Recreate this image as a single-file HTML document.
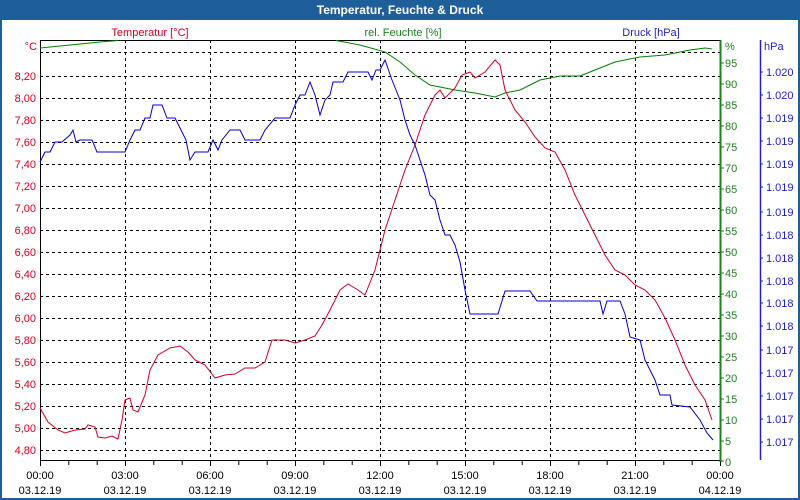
<!DOCTYPE html>
<html><head><meta charset="utf-8"><style>
html,body{margin:0;padding:0;background:#fff}
svg{display:block}
text{font-family:"Liberation Sans","DejaVu Sans",sans-serif;font-size:11px}
</style></head><body>
<svg width="800" height="500" viewBox="0 0 800 500" xmlns="http://www.w3.org/2000/svg">
<rect x="0" y="0" width="800" height="500" fill="#fff"/>
<rect x="0" y="0" width="800" height="20" fill="#1e5f99"/>
<rect x="1" y="1" width="798" height="498" fill="none" stroke="#1e5f99" stroke-width="2"/>
<text x="400" y="14" fill="#fff" text-anchor="middle" font-weight="bold" style="font-size:12px">Temperatur, Feuchte &amp; Druck</text>

<text x="150" y="36" fill="#d00020" text-anchor="middle">Temperatur [°C]</text>
<text x="403" y="36" fill="#208020" text-anchor="middle">rel. Feuchte [%]</text>
<text x="651" y="36" fill="#2020c0" text-anchor="middle">Druck [hPa]</text>
<text x="37" y="50" fill="#d00020" text-anchor="end">°C</text>
<text x="725" y="50" fill="#208020">%</text>
<text x="764" y="50" fill="#2020c0">hPa</text>

<g stroke="#000" stroke-dasharray="3,3" stroke-width="1">
<line x1="40" y1="52.5" x2="720" y2="52.5"/>
<line x1="40" y1="76.5" x2="720" y2="76.5"/><line x1="40" y1="98.5" x2="720" y2="98.5"/>
<line x1="40" y1="120.5" x2="720" y2="120.5"/><line x1="40" y1="142.5" x2="720" y2="142.5"/>
<line x1="40" y1="164.5" x2="720" y2="164.5"/><line x1="40" y1="186.5" x2="720" y2="186.5"/>
<line x1="40" y1="208.5" x2="720" y2="208.5"/><line x1="40" y1="230.5" x2="720" y2="230.5"/>
<line x1="40" y1="252.5" x2="720" y2="252.5"/><line x1="40" y1="274.5" x2="720" y2="274.5"/>
<line x1="40" y1="296.5" x2="720" y2="296.5"/><line x1="40" y1="318.5" x2="720" y2="318.5"/>
<line x1="40" y1="340.5" x2="720" y2="340.5"/><line x1="40" y1="362.5" x2="720" y2="362.5"/>
<line x1="40" y1="384.5" x2="720" y2="384.5"/><line x1="40" y1="406.5" x2="720" y2="406.5"/>
<line x1="40" y1="428.5" x2="720" y2="428.5"/><line x1="40" y1="450.5" x2="720" y2="450.5"/>
<line x1="125.5" y1="40" x2="125.5" y2="460"/><line x1="210.5" y1="40" x2="210.5" y2="460"/>
<line x1="295.5" y1="40" x2="295.5" y2="460"/><line x1="380.5" y1="40" x2="380.5" y2="460"/>
<line x1="465.5" y1="40" x2="465.5" y2="460"/><line x1="550.5" y1="40" x2="550.5" y2="460"/>
<line x1="635.5" y1="40" x2="635.5" y2="460"/>
</g>
<line x1="40.5" y1="40" x2="40.5" y2="461" stroke="#000"/>
<line x1="40" y1="40.5" x2="720" y2="40.5" stroke="#000"/>
<line x1="40" y1="460.5" x2="720" y2="460.5" stroke="#000"/>
<line x1="720.5" y1="40" x2="720.5" y2="462" stroke="#208020" stroke-width="2"/>
<line x1="760.5" y1="40" x2="760.5" y2="460" stroke="#2020c0" stroke-width="1.5"/>

<g stroke="#000">
<path d="M40.5 461v5M68.8 461v4M97.2 461v4M125.5 461v5M153.8 461v4M182.2 461v4M210.5 461v5M238.8 461v4M267.2 461v4M295.5 461v5M323.8 461v4M352.2 461v4M380.5 461v5M408.8 461v4M437.2 461v4M465.5 461v5M493.8 461v4M522.2 461v4M550.5 461v5M578.8 461v4M607.2 461v4M635.5 461v5M663.8 461v4M692.2 461v4M720.5 461v5"/>
</g>

<g fill="#d00020" text-anchor="end">
<text x="36" y="80">8,20</text><text x="36" y="102">8,00</text><text x="36" y="124">7,80</text>
<text x="36" y="146">7,60</text><text x="36" y="168">7,40</text><text x="36" y="190">7,20</text>
<text x="36" y="212">7,00</text><text x="36" y="234">6,80</text><text x="36" y="256">6,60</text>
<text x="36" y="278">6,40</text><text x="36" y="300">6,20</text><text x="36" y="322">6,00</text>
<text x="36" y="344">5,80</text><text x="36" y="366">5,60</text><text x="36" y="388">5,40</text>
<text x="36" y="410">5,20</text><text x="36" y="432">5,00</text><text x="36" y="454">4,80</text>
</g>

<g fill="#208020" stroke="none">
<text x="725" y="67">95</text><text x="725" y="88">90</text><text x="725" y="109">85</text>
<text x="725" y="130">80</text><text x="725" y="151">75</text><text x="725" y="172">70</text>
<text x="725" y="193">65</text><text x="725" y="214">60</text><text x="725" y="235">55</text>
<text x="725" y="256">50</text><text x="725" y="277">45</text><text x="725" y="298">40</text>
<text x="725" y="319">35</text><text x="725" y="340">30</text><text x="725" y="361">25</text>
<text x="725" y="382">20</text><text x="725" y="403">15</text><text x="725" y="424">10</text>
<text x="725" y="445">5</text><text x="725" y="466">0</text>
</g>
<path stroke="#208020" d="M720 63h4M720 84h4M720 105h4M720 126h4M720 147h4M720 168h4M720 189h4M720 210h4M720 231h4M720 252h4M720 273h4M720 294h4M720 315h4M720 336h4M720 357h4M720 378h4M720 399h4M720 420h4M720 441h4M720 461h4"/>

<g fill="#2020c0">
<text x="766" y="76">1.020</text><text x="766" y="99">1.020</text><text x="766" y="122">1.019</text>
<text x="766" y="145">1.019</text><text x="766" y="168">1.019</text><text x="766" y="191">1.019</text>
<text x="766" y="216">1.019</text><text x="766" y="239">1.018</text><text x="766" y="262">1.018</text>
<text x="766" y="285">1.018</text><text x="766" y="307">1.018</text><text x="766" y="330">1.018</text>
<text x="766" y="354">1.017</text><text x="766" y="377">1.017</text><text x="766" y="400">1.017</text>
<text x="766" y="423">1.017</text><text x="766" y="446">1.017</text>
</g>
<path stroke="#2020c0" d="M760 72h3M760 95h3M760 118h3M760 141h3M760 164h3M760 187h3M760 212h3M760 235h3M760 258h3M760 281h3M760 303h3M760 326h3M760 350h3M760 373h3M760 396h3M760 419h3M760 442h3"/>

<g fill="#000" text-anchor="middle">
<text x="40" y="479">00:00</text><text x="40" y="494">03.12.19</text>
<text x="125" y="479">03:00</text><text x="125" y="494">03.12.19</text>
<text x="210" y="479">06:00</text><text x="210" y="494">03.12.19</text>
<text x="295" y="479">09:00</text><text x="295" y="494">03.12.19</text>
<text x="380" y="479">12:00</text><text x="380" y="494">03.12.19</text>
<text x="465" y="479">15:00</text><text x="465" y="494">03.12.19</text>
<text x="550" y="479">18:00</text><text x="550" y="494">03.12.19</text>
<text x="635" y="479">21:00</text><text x="635" y="494">03.12.19</text>
<text x="720" y="479">00:00</text><text x="720" y="494">04.12.19</text>
</g>

<g fill="none" stroke-width="1">
<polyline stroke="#008000" points="40,48 60,46 80,44 90,43 100,42 118,40.5 M"/>
<polyline stroke="#008000" points="336,40.5 360,45 385,52 400,62 415,75 430,85 455,90 475,93 495,97 505,93 520,90 540,80 560,76 580,76 595,70 615,62 640,57 665,55 690,50 705,48 712,49"/>
<polyline stroke="#d00020" points="40,408 48,422 58,430 65,433 75,430 85,429 88,425 95,427 98,437 105,438 112,436 118,439 122,420 125,400 130,398 133,410 138,412 145,395 150,370 158,355 170,348 180,346 188,352 195,360 205,365 215,378 225,375 235,374 245,368 255,368 265,362 272,340 285,340 295,343 305,340 315,336 322,325 330,310 340,290 348,284 358,290 365,295 375,270 385,230 395,200 405,170 415,145 425,115 435,95 440,90 445,98 455,88 462,75 470,72 475,78 485,72 495,60 500,65 505,90 515,110 525,122 535,137 545,148 555,152 565,170 575,195 585,215 595,235 605,255 615,270 625,275 635,285 645,290 655,300 665,318 675,340 685,365 695,385 705,400 712,420"/>
<polyline stroke="#0000d0" points="40,162 45,152 50,152 55,142 62,142 70,135 73,130 76,142 80,140 92,140 97,152 125,152 130,140 135,130 140,130 145,118 150,118 153,105 162,105 167,118 175,118 180,128 186,140 190,160 195,152 208,152 213,140 218,150 222,140 230,130 240,130 245,140 260,140 265,130 275,118 290,118 295,105 300,95 305,95 310,82 315,95 320,115 325,100 330,95 333,82 343,82 348,72 368,72 372,80 376,70 380,70 385,60 392,80 400,100 405,120 410,135 415,145 420,160 425,175 430,195 435,200 440,220 445,235 450,235 455,245 460,262 465,290 470,314 498,314 505,291 530,291 537,301 600,301 603,314 607,301 620,301 625,314 630,337 640,340 645,360 655,380 660,395 670,395 672,405 690,407 700,420 707,433 713,440"/>
</g>
</svg>
</body></html>
